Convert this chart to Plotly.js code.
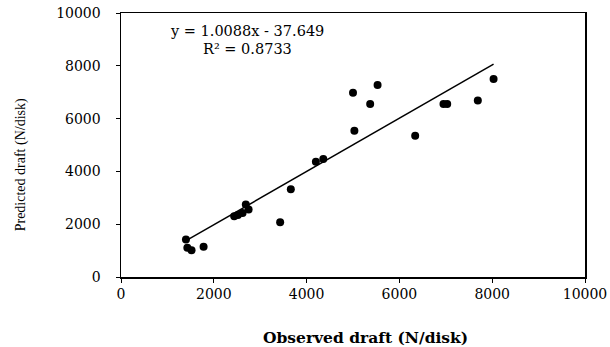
<!DOCTYPE html>
<html>
<head>
<meta charset="utf-8">
<script src="https://cdn.plot.ly/plotly-3.0.1.min.js"></script>
<style>html,body{margin:0;padding:0;background:#fff;}#chart{width:610px;height:347px;}</style>
</head>
<body>
<div id="chart"></div>
<script>
const observed = [1400, 1430, 1520, 1780, 2440, 2520, 2620, 2690, 2750, 3430, 3660, 4200, 4360, 5000, 5030, 5370, 5530, 6340, 6950, 7030, 7690, 8030];
const predicted = [1420, 1110, 1010, 1150, 2300, 2350, 2420, 2750, 2560, 2070, 3320, 4370, 4470, 6980, 5540, 6550, 7270, 5350, 6550, 6550, 6690, 7500];
const slope = 1.0088;
const intercept = -37.649;
const trendX = [1450, 8030];
const trendY = trendX.map(x => slope * x + intercept);
const xTicks = [0, 2000, 4000, 6000, 8000, 10000];
const yTicks = [0, 2000, 4000, 6000, 8000, 10000];

const serif = "Liberation Serif, Times New Roman, serif";
const wide = "DejaVu Serif, serif";

Plotly.newPlot('chart', [
  {x: observed, y: predicted, type: 'scatter', mode: 'markers',
   marker: {color: '#000', size: 8}},
  {x: trendX, y: trendY, type: 'scatter', mode: 'lines',
   line: {color: '#000', width: 1.5}}
], {
  width: 610, height: 347,
  margin: {l: 121, r: 25, t: 13, b: 70},
  showlegend: false,
  paper_bgcolor: '#fff', plot_bgcolor: '#fff',
  font: {family: serif, color: '#000'},
  xaxis: {range: [0, 10000], tickvals: xTicks, ticktext: xTicks.map(String),
          showgrid: false, zeroline: false, showline: true, mirror: true,
          linecolor: '#000', linewidth: 1.5, ticks: 'outside', ticklen: 4,
          tickcolor: '#000', tickfont: {family: wide, size: 14, color: '#000'}},
  yaxis: {range: [0, 10000], tickvals: yTicks, ticktext: yTicks.map(String),
          showgrid: false, zeroline: false, showline: true, mirror: true,
          linecolor: '#000', linewidth: 1.5, ticks: 'outside', ticklen: 4,
          ticklabelstandoff: 12,
          tickcolor: '#000', tickfont: {family: wide, size: 14, color: '#000'}},
  annotations: [
    {text: 'y = 1.0088x - 37.649', xref: 'paper', yref: 'paper', x: 0.2716, y: 0.93,
     xanchor: 'center', yanchor: 'middle',
     showarrow: false, font: {family: wide, size: 14.5, color: '#000'}},
    {text: 'R² = 0.8733', xref: 'paper', yref: 'paper', x: 0.2716, y: 0.862,
     xanchor: 'center', yanchor: 'middle',
     showarrow: false, font: {family: wide, size: 14.5, color: '#000'}},
    {text: '<b>Observed draft (N/disk)</b>', xref: 'paper', yref: 'paper', x: 0.526, y: -0.231,
     xanchor: 'center', yanchor: 'middle', showarrow: false, font: {family: wide, size: 15.5, color: '#000'}},
    {text: 'Predicted draft (N/disk)', xref: 'paper', yref: 'paper', x: -0.215, y: 0.424,
     xanchor: 'center', yanchor: 'middle',
     textangle: -90, showarrow: false, font: {family: serif, size: 14, color: '#000'}}
  ]
}, {displayModeBar: false, staticPlot: true});
</script>
</body>
</html>
